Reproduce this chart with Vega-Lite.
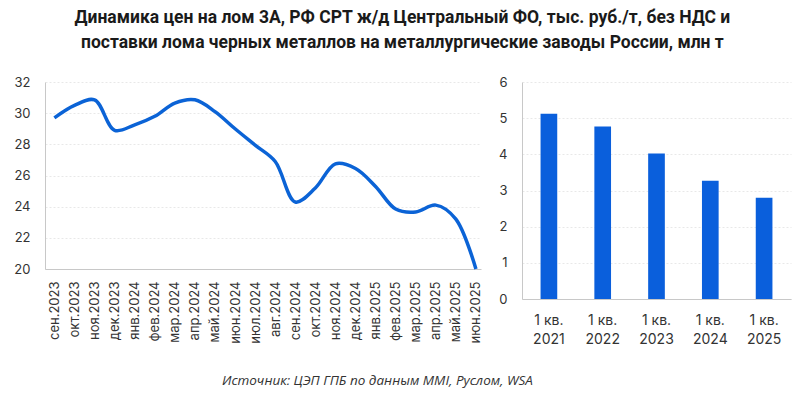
{
  "$schema": "https://vega.github.io/schema/vega-lite/v6.json",
  "padding": {"left": 13, "right": 10, "top": 8, "bottom": 6},
  "background": "white",
  "title": {
    "text": ["Динамика цен на лом 3А, РФ СРТ ж/д Центральный ФО, тыс. руб./т, без НДС и", "поставки лома черных металлов на металлургические заводы России, млн т"],
    "font": "Roboto", "fontSize": 17.5, "fontWeight": "bold", "color": "#1a1a1a",
    "lineHeight": 25, "anchor": "middle", "offset": 25
  },
  "config": {
    "view": {"stroke": null},
    "axis": {"labelFont": "Inter", "labelFontSize": 13, "labelColor": "#333333", "domainColor": "#c8c8c8", "gridColor": "#e8e8e8", "gridDash": [2, 2], "ticks": false, "title": null}
  },
  "vconcat": [
    {
      "title": {"text": "Источник: ЦЭП ГПБ по данным MMI, Руслом, WSA", "orient": "bottom", "font": "Open Sans", "fontStyle": "italic", "fontWeight": "normal", "fontSize": 13.5, "color": "#333333", "anchor": "middle", "dx": -25, "offset": 28},
      "hconcat": [
        {
          "width": 436, "height": 187,
          "data": {"values": [
            {"month": "сен.2023", "price": 29.7},
            {"month": "окт.2023", "price": 30.5},
            {"month": "ноя.2023", "price": 30.85},
            {"month": "дек.2023", "price": 28.9},
            {"month": "янв.2024", "price": 29.25},
            {"month": "фев.2024", "price": 29.8},
            {"month": "мар.2024", "price": 30.65},
            {"month": "апр.2024", "price": 30.86},
            {"month": "май.2024", "price": 30.1},
            {"month": "июн.2024", "price": 29.0},
            {"month": "июл.2024", "price": 27.95},
            {"month": "авг.2024", "price": 26.9},
            {"month": "сен.2024", "price": 24.3},
            {"month": "окт.2024", "price": 25.2},
            {"month": "ноя.2024", "price": 26.75},
            {"month": "дек.2024", "price": 26.45},
            {"month": "янв.2025", "price": 25.3},
            {"month": "фев.2025", "price": 23.85},
            {"month": "мар.2025", "price": 23.66},
            {"month": "апр.2025", "price": 24.1},
            {"month": "май.2025", "price": 23.2},
            {"month": "июн.2025", "price": 20.0}
          ]},
          "mark": {"type": "line", "color": "#0b63d6", "strokeWidth": 3.5, "interpolate": "catmull-rom", "clip": false},
          "encoding": {
            "x": {"field": "month", "type": "ordinal", "sort": null,
                  "scale": {"type": "point", "padding": 0.36, "align": 0.65},
                  "axis": {"labelAngle": -90, "labelPadding": 12, "grid": false, "domainColor": "#c8c8c8"}},
            "y": {"field": "price", "type": "quantitative",
                  "scale": {"domain": [20, 32], "nice": false, "zero": false},
                  "axis": {"values": [20, 22, 24, 26, 28, 30, 32], "labelPadding": 15, "grid": true}}
          }
        },
        {
          "width": 269, "height": 217,
          "data": {"values": [
            {"period": "1 кв. 2021", "supply": 5.12},
            {"period": "1 кв. 2022", "supply": 4.77},
            {"period": "1 кв. 2023", "supply": 4.02},
            {"period": "1 кв. 2024", "supply": 3.27},
            {"period": "1 кв. 2025", "supply": 2.8}
          ]},
          "mark": {"type": "bar", "color": "#0a5fdc"},
          "encoding": {
            "x": {"field": "period", "type": "ordinal", "sort": null,
                  "scale": {"paddingInner": 0.69, "paddingOuter": 0.345},
                  "axis": {"labelAngle": 0, "labelPadding": 14, "labelLineHeight": 19, "labelExpr": "[slice(datum.label, 0, 5), slice(datum.label, 6)]", "labelFontSize": 14}},
            "y": {"field": "supply", "type": "quantitative",
                  "scale": {"domain": [0, 6], "nice": false},
                  "axis": {"values": [0, 1, 2, 3, 4, 5, 6], "labelPadding": 15, "grid": true}}
          }
        }
      ],
      "spacing": 15
    }
  ]
}
